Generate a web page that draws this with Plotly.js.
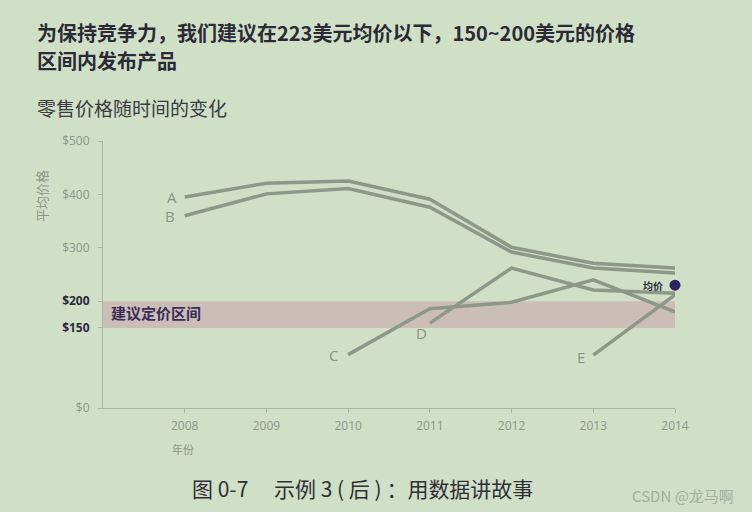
<!DOCTYPE html>
<html>
<head>
<meta charset="utf-8">
<script src="https://cdn.plot.ly/plotly-3.0.1.min.js"></script>
<style>
html,body{margin:0;padding:0;background:#cfe0c6;}
#chart{width:752px;height:512px;}
</style>
</head>
<body>
<div id="chart"></div>
<script>
// ---- data ----
const years = [2008, 2009, 2010, 2011, 2012, 2013, 2014];
const seriesA = [395, 421, 425, 391, 301, 271, 262];
const seriesB = [360, 401, 411, 376, 292, 262, 253];
const yearsC = [2010, 2011, 2012, 2013, 2014];
const seriesC = [100, 186, 198, 240, 180];
const yearsD = [2011, 2012, 2013, 2014];
const seriesD = [159, 262, 221, 215];
const yearsE = [2013, 2014];
const seriesE = [99, 212];
const avgYear = 2014;
const avgPrice = 230;
const bandLow = 150, bandHigh = 200;
const yTickVals = [0, 150, 200, 300, 400, 500];
const yTickText = ['$0', '$150', '$200', '$300', '$400', '$500'];
const xTickVals = [2008, 2009, 2010, 2011, 2012, 2013, 2014];
const labelNames = ['A', 'B', 'C', 'D', 'E'];
const titleLines = ['为保持竞争力，我们建议在223美元均价以下，150~200美元的价格', '区间内发布产品'];

const lineColor = 'rgb(141,152,137)';
const cjk = '"Noto Sans CJK SC", "Noto Sans", sans-serif';
const latin = '"Open Sans", "Noto Sans", sans-serif';
const dark = '#2c2a3c';
const grayTxt = '#8c968a';
const purple = '#2e2560';

function lineTrace(x, y) {
  return {x: x, y: y, type: 'scatter', mode: 'lines',
          line: {color: lineColor, width: 3.5}, hoverinfo: 'skip', showlegend: false};
}

const traces = [
  lineTrace(years, seriesA),
  lineTrace(years, seriesB),
  lineTrace(yearsC, seriesC),
  lineTrace(yearsD, seriesD),
  lineTrace(yearsE, seriesE),
  {x: [avgYear], y: [avgPrice], type: 'scatter', mode: 'markers', cliponaxis: false,
   marker: {color: purple, size: 11}, showlegend: false, hoverinfo: 'skip'}
];

const ticktext = yTickText.map((t, i) => {
  const v = yTickVals[i];
  if (v === bandLow || v === bandHigh) return '<b><span style="color:' + dark + '">' + t + '</span></b>';
  return t;
});

const starts = [
  {name: labelNames[0], x: years[0], y: seriesA[0], xanchor: 'right', yanchor: 'middle', xs: -6, ys: 0},
  {name: labelNames[1], x: years[0], y: seriesB[0], xanchor: 'right', yanchor: 'middle', xs: -8, ys: 0},
  {name: labelNames[2], x: yearsC[0], y: seriesC[0], xanchor: 'right', yanchor: 'middle', xs: -8, ys: 0},
  {name: labelNames[3], x: yearsD[0], y: seriesD[0], xanchor: 'center', yanchor: 'top', xs: -8, ys: 2},
  {name: labelNames[4], x: yearsE[0], y: seriesE[0], xanchor: 'right', yanchor: 'middle', xs: -6, ys: -2}
];

const annotations = starts.map(s => ({
  x: s.x, y: s.y, xref: 'x', yref: 'y', text: s.name, showarrow: false,
  xanchor: s.xanchor, yanchor: s.yanchor, xshift: s.xs, yshift: s.ys,
  font: {family: latin, size: 15, color: 'rgb(135,148,133)'}
}));

annotations.push(
  {x: 2007, y: (bandLow + bandHigh) / 2, xref: 'x', yref: 'y', text: '<b>建议定价区间</b>',
   showarrow: false, xanchor: 'left', yanchor: 'middle', xshift: 6, yshift: 2,
   font: {family: cjk, size: 15, color: '#3a2c5a'}},
  {x: avgYear, y: avgPrice, xref: 'x', yref: 'y', text: '<b>均价</b>', showarrow: false,
   xanchor: 'right', yanchor: 'middle', xshift: -10, yshift: 0,
   font: {family: cjk, size: 10, color: dark}}
);

const W = 752, H = 512, mL = 103, mR = 77, mT = 141, mB = 104;
const pw = W - mL - mR, ph = H - mT - mB;
function px2paperX(px) { return (px - mL) / pw; }
function px2paperY(py) { return (H - mB - py) / ph; }

annotations.push(
  {x: px2paperX(35), y: px2paperY(33), xref: 'paper', yref: 'paper', text: '<b>' + titleLines[0] + '</b>',
   showarrow: false, xanchor: 'left', yanchor: 'middle',
   font: {family: cjk, size: 20, color: '#2b2a36'}},
  {x: px2paperX(35), y: px2paperY(61), xref: 'paper', yref: 'paper', text: '<b>' + titleLines[1] + '</b>',
   showarrow: false, xanchor: 'left', yanchor: 'middle',
   font: {family: cjk, size: 20, color: '#2b2a36'}},
  {x: px2paperX(35), y: px2paperY(108), xref: 'paper', yref: 'paper', text: '零售价格随时间的变化',
   showarrow: false, xanchor: 'left', yanchor: 'middle',
   font: {family: cjk, size: 19, color: '#3b3b42'}},
  {x: px2paperX(41), y: px2paperY(196), xref: 'paper', yref: 'paper', text: '平均价格',
   showarrow: false, textangle: -90, xanchor: 'center', yanchor: 'middle',
   font: {family: cjk, size: 13, color: grayTxt}},
  {x: px2paperX(183), y: px2paperY(449), xref: 'paper', yref: 'paper', text: '年份',
   showarrow: false, xanchor: 'center', yanchor: 'middle',
   font: {family: cjk, size: 11, color: grayTxt}},
  {x: px2paperX(362), y: px2paperY(488), xref: 'paper', yref: 'paper',
   text: '图 0-7　 示例 3 ( 后 ) ：用数据讲故事',
   showarrow: false, xanchor: 'center', yanchor: 'middle',
   font: {family: cjk, size: 21, color: '#2f2f38'}},
  {x: px2paperX(736), y: px2paperY(495), xref: 'paper', yref: 'paper', text: 'CSDN @龙马啊',
   showarrow: false, xanchor: 'right', yanchor: 'middle',
   font: {family: cjk, size: 15, color: '#a3ad9f'}}
);

const layout = {
  width: W, height: H,
  margin: {l: mL, r: mR, t: mT, b: mB, pad: 0},
  paper_bgcolor: '#cfe0c6',
  plot_bgcolor: '#cfe0c6',
  xaxis: {
    range: [2007, 2014], tickvals: xTickVals, ticks: 'outside', ticklen: 4,
    tickcolor: '#a8b6a2', showgrid: false, zeroline: false,
    showline: true, linecolor: '#a8b6a2', linewidth: 1,
    tickfont: {family: latin, size: 12, color: grayTxt}, ticklabelstandoff: 3
  },
  yaxis: {
    range: [0, 500], tickvals: yTickVals, ticktext: ticktext, ticks: 'outside', ticklen: 4,
    tickcolor: '#a8b6a2', showgrid: false, zeroline: false,
    showline: true, linecolor: '#a8b6a2', linewidth: 1,
    tickfont: {family: latin, size: 12, color: grayTxt}, ticklabelstandoff: 6
  },
  shapes: [{
    type: 'rect', xref: 'x', yref: 'y', x0: 2007, x1: 2014, y0: bandLow, y1: bandHigh,
    fillcolor: 'rgb(203,190,183)', line: {width: 0}, layer: 'below'
  }],
  annotations: annotations,
  showlegend: false
};

Plotly.newPlot('chart', traces, layout, {displayModeBar: false, staticPlot: true});
</script>
</body>
</html>
